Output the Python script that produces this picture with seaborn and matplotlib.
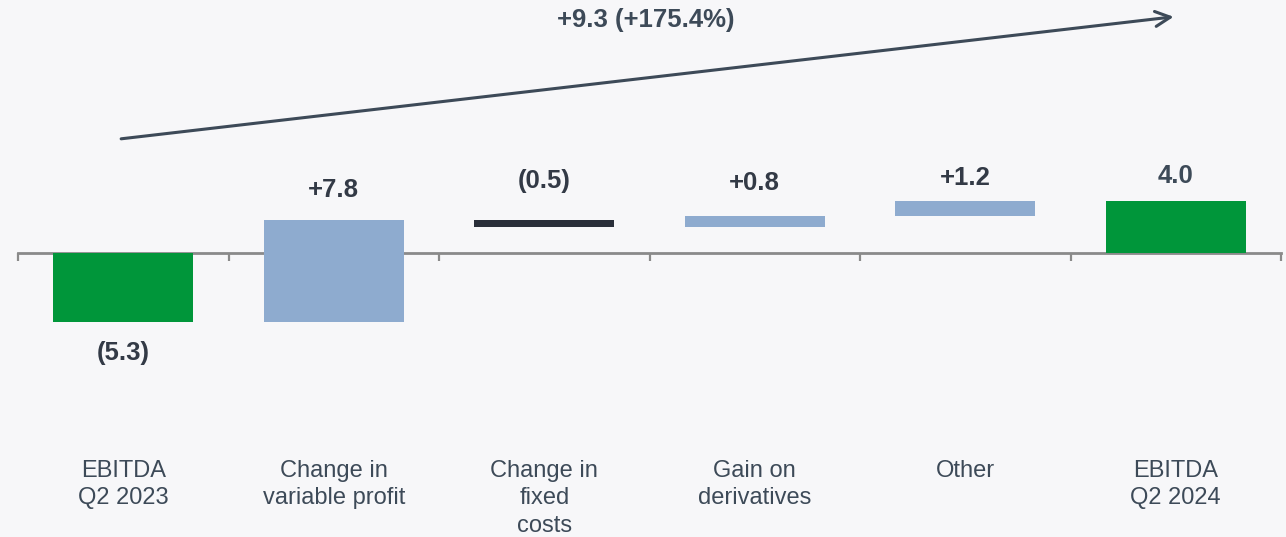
import matplotlib
matplotlib.use("Agg")
import matplotlib.pyplot as plt
import seaborn as sns
import numpy as np

# Waterfall data: EBITDA bridge Q2 2023 -> Q2 2024
categories = ["EBITDA\nQ2 2023", "Change in\nvariable profit", "Change in\nfixed\ncosts",
              "Gain on\nderivatives", "Other", "EBITDA\nQ2 2024"]
start_value = -5.3
changes = [7.8, -0.5, 0.8, 1.2]
end_value = 4.0
bridge_label = "+9.3 (+175.4%)"

GREEN = "#00963a"
BLUE = "#8eabcf"
DARK = "#2a2f3a"
TEXT = "#333a46"
SLATE = "#3d4a58"
BG = "#f7f7f9"

sns.set_theme(style="white")
plt.rcParams["font.family"] = ["Liberation Sans", "DejaVu Sans"]

fig = plt.figure(figsize=(12.86, 5.37), dpi=100, facecolor=BG)
ax = fig.add_axes([18 / 1286, 0, (1281 - 18) / 1286, 1])
ax.set_facecolor(BG)

# bottoms and heights for every bar
bottoms, heights, colors, labels = [], [], [], []
bottoms.append(0.0)
heights.append(start_value)
colors.append(GREEN)
labels.append(f"({abs(start_value):.1f})" if start_value < 0 else f"{start_value:.1f}")
running = start_value
for c in changes:
    bottoms.append(running)
    heights.append(c)
    colors.append(BLUE if c >= 0 else DARK)
    labels.append(f"+{c:.1f}" if c >= 0 else f"({abs(c):.1f})")
    running += c
bottoms.append(0.0)
heights.append(end_value)
colors.append(GREEN)
labels.append(f"{end_value:.1f}")

x = np.arange(len(categories))
ax.bar(x, heights, bottom=bottoms, width=0.665, color=colors, linewidth=0, zorder=3)

# value labels: vertical offset (px) from the bar's outer edge
label_offsets = [31, -30, -39, -33, -23, -25]
for i, (b, h, lab, off) in enumerate(zip(bottoms, heights, labels, label_offsets)):
    if i == 0:
        edge = b + h
    else:
        edge = max(b, b + h)
    ax.annotate(lab, xy=(i, edge), xytext=(0, -off * 0.72), textcoords="offset points",
                ha="center", va="center", fontsize=18.5, fontweight="bold",
                color=SLATE if i == len(x) - 1 else TEXT)

# overall change arrow
ax.annotate("", xy=(4.99, 18.1), xytext=(-0.01, 8.75),
            arrowprops=dict(arrowstyle="->,head_length=0.9,head_width=0.45",
                            color=SLATE, lw=2.2, shrinkA=0, shrinkB=0))
ax.text(2.48, 17.85, bridge_label, ha="center", va="center", fontsize=18.5,
        fontweight="bold", color=SLATE)

# axis at zero with boundary ticks
ax.set_xlim(-0.5, 5.5)
ax.set_ylim(-(537 - 253) / 13.05, 253 / 13.05)
for s in ["top", "right", "left"]:
    ax.spines[s].set_visible(False)
ax.spines["bottom"].set_position(("data", 0))
ax.spines["bottom"].set_color("#8a8a8a")
ax.spines["bottom"].set_linewidth(2.0)
ax.spines["bottom"].set_zorder(2)
ax.set_yticks([])
ax.set_xticks(x, categories)
ax.set_xticks(np.arange(-0.5, 6.0, 1.0), minor=True)
ax.tick_params(axis="x", which="major", bottom=True, length=0, pad=149,
               labelsize=17, labelcolor=SLATE)
ax.tick_params(axis="x", which="minor", bottom=True, length=6, width=1.6,
               color="#8a8a8a", direction="out")
for t in ax.get_xticklabels():
    t.set_linespacing(1.32)
    t.set_va("top")

fig.savefig("out.png", dpi=100, facecolor=BG)
